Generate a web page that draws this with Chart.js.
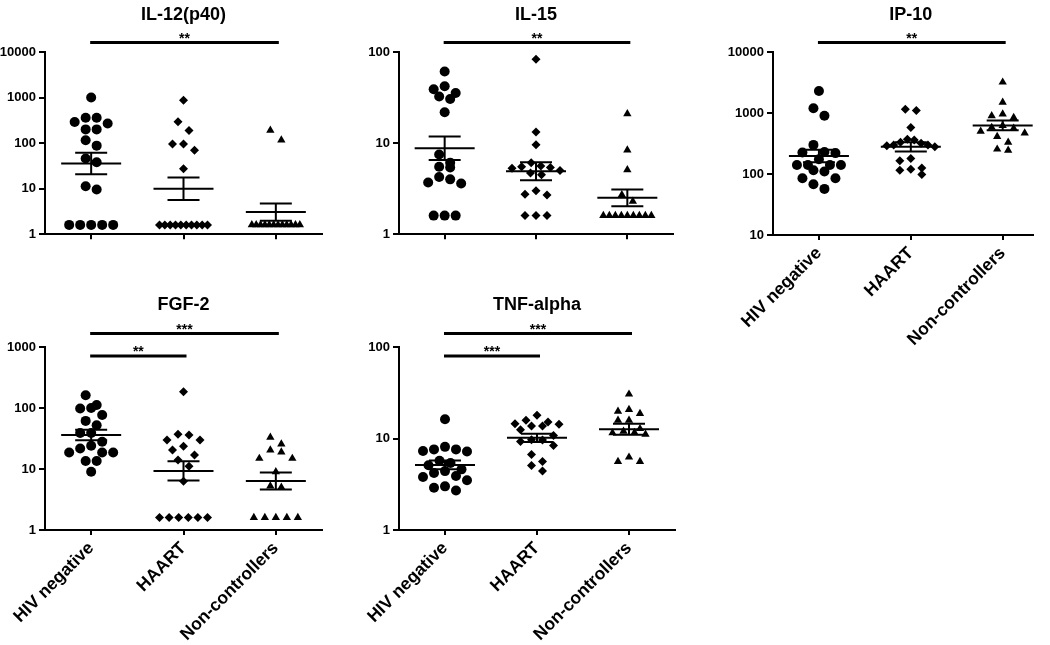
<!DOCTYPE html>
<html lang="en">
<head>
<meta charset="UTF-8">
<title>Cytokines</title>
<style>
  body { margin: 0; background: #fff; }
  #wrap { position: relative; width: 1050px; height: 645px; overflow: hidden; }
  canvas { position: absolute; }
</style>
</head>
<body>
<div id="wrap">
  <canvas id="c1" width="330" height="245" style="left:0;top:0"></canvas>
  <canvas id="c2" width="330" height="245" style="left:350px;top:0"></canvas>
  <canvas id="c3" width="360" height="360" style="left:690px;top:0"></canvas>
  <canvas id="c4" width="330" height="375" style="left:0;top:270px"></canvas>
  <canvas id="c5" width="330" height="375" style="left:350px;top:270px"></canvas>
</div>

<script src="https://cdn.jsdelivr.net/npm/chart.js@4.4.0/dist/chart.umd.min.js"></script>
<script>
// groups on the x axis
const groups = ['HIV negative', 'HAART', 'Non-controllers'];

// IL-12(p40)
const il12Neg = [1000, 360, 360, 290, 270, 200, 200, 115, 88, 46, 38, 11.3, 9.6, 1.6, 1.6, 1.6, 1.6, 1.6];
const il12Haart = [870, 295, 190, 95, 95, 70, 27.5, 1.6, 1.6, 1.6, 1.6, 1.6, 1.6, 1.6, 1.6, 1.6, 1.6];
const il12Nc = [190, 116, 1.6, 1.6, 1.6, 1.6, 1.6, 1.6, 1.6, 1.6, 1.6, 1.6, 1.6, 1.6];
const il12Ticks = [1, 10, 100, 1000, 10000];

// IL-15
const il15Neg = [61, 42, 39, 35.4, 32.5, 30.5, 21.8, 7.5, 6.1, 5.5, 5.4, 4.25, 4.0, 3.7, 3.6, 1.6, 1.6, 1.6];
const il15Haart = [83, 13.2, 9.6, 6.1, 5.6, 5.5, 5.4, 5.3, 5.0, 4.7, 4.5, 3.0, 2.75, 2.7, 1.6, 1.6, 1.6];
const il15Nc = [21, 8.4, 5.1, 2.7, 2.3, 1.6, 1.6, 1.6, 1.6, 1.6, 1.6, 1.6, 1.6, 1.6];
const il15Ticks = [1, 10, 100];

// IP-10
const ip10Neg = [2300, 1200, 900, 300, 230, 225, 220, 175, 140, 140, 140, 140, 115, 110, 85, 85, 68, 57];
const ip10Haart = [1150, 1100, 580, 360, 330, 370, 320, 300, 290, 280, 300, 180, 165, 125, 120, 115, 98];
const ip10Nc = [3200, 1500, 960, 900, 840, 620, 580, 560, 500, 470, 410, 330, 255, 245];
const ip10Ticks = [10, 100, 1000, 10000];

// FGF-2
const fgfNeg = [162, 112, 100, 98, 77, 61.5, 52, 39, 39, 28, 24, 21.7, 18.7, 18.7, 18.7, 13.5, 13.5, 9];
const fgfHaart = [184, 37, 36, 30, 30, 23.7, 20.4, 16.9, 14, 11.1, 6.3, 1.6, 1.6, 1.6, 1.6, 1.6, 1.6];
const fgfNc = [33, 25.6, 20.4, 19, 14.9, 14.9, 9, 5.25, 5.0, 1.6, 1.6, 1.6, 1.6, 1.6];
const fgfTicks = [1, 10, 100, 1000];

// TNF-alpha
const tnfNeg = [16.2, 8.1, 7.6, 7.6, 7.3, 7.2, 5.7, 5.4, 5.1, 4.6, 4.4, 4.2, 3.9, 3.8, 3.5, 3.0, 2.9, 2.7];
const tnfHaart = [17.9, 15.8, 15.1, 14.5, 14.3, 13.7, 13.7, 12.5, 10.8, 9.7, 9.6, 9.3, 8.4, 6.7, 5.6, 5.07, 4.4];
const tnfNc = [30.5, 20.7, 19.8, 18.7, 15.8, 15.8, 12.8, 12, 11.6, 11.5, 11.1, 6.25, 5.6, 5.6];
const tnfTicks = [1, 10, 100];

const FONT = '"Liberation Sans", Arial, sans-serif';
const PLOT_H = 183;     // height of every plot area
const ROW_GAP = 10;     // px: points closer than this share a row
const DOT_STEP = 11;    // px between neighbours in a row
const MAX_SPAN = 48;    // px: widest a row may get

const panels = [
  { id: 'c1', title: 'IL-12(p40)', data: [il12Neg, il12Haart, il12Nc], ticks: il12Ticks,
    yw: 45, top: 52, right: 8, xh: 10, xmax: 3.5, labels: false, titleDy: -32,
    sig: [{ a: 1, b: 3, t: '**', dy: -9.5 }] },
  { id: 'c2', title: 'IL-15', data: [il15Neg, il15Haart, il15Nc], ticks: il15Ticks,
    yw: 49, top: 52, right: 7, xh: 10, xmax: 3.5, labels: false, titleDy: -32,
    sig: [{ a: 1, b: 3, t: '**', dy: -9.5 }] },
  { id: 'c3', title: 'IP-10', data: [ip10Neg, ip10Haart, ip10Nc], ticks: ip10Ticks,
    yw: 83, top: 52, right: 17, xh: 125, xmax: 3.33, labels: true, titleDy: -32,
    sig: [{ a: 1, b: 3, t: '**', dy: -9.5 }] },
  { id: 'c4', title: 'FGF-2', data: [fgfNeg, fgfHaart, fgfNc], ticks: fgfTicks,
    yw: 45, top: 77, right: 8, xh: 115, xmax: 3.5, labels: true, titleDy: -37.5,
    sig: [{ a: 1, b: 3, t: '***', dy: -13.5 }, { a: 1, b: 2, t: '**', dy: 9 }] },
  { id: 'c5', title: 'TNF-alpha', data: [tnfNeg, tnfHaart, tnfNc], ticks: tnfTicks,
    yw: 49, top: 77, right: 5, xh: 115, xmax: 3.5, labels: true, titleDy: -37.5,
    sig: [{ a: 1, b: 3, t: '***', dy: -13.5 }, { a: 1, b: 2, t: '***', dy: 9 }] }
];

const shapes = ['circle', 'rectRot', 'triangle'];
const radii = [5, 4.5, 4.8];

// spread points of one column sideways, row by row, like a column scatter
function spread(values, g, decPx, unitPx) {
  var sorted = values.slice().sort((a, b) => b - a);
  var pts = [];
  var i = 0;
  while (i < sorted.length) {
    var y0 = Math.log10(sorted[i]) * decPx;
    var j = i + 1;
    while (j < sorted.length && y0 - Math.log10(sorted[j]) * decPx < ROW_GAP) j++;
    var row = sorted.slice(i, j);
    var n = row.length;
    var step = n > 1 ? Math.min(DOT_STEP, MAX_SPAN / (n - 1)) : 0;
    var slots = row.map((_, k) => k - (n - 1) / 2)
      .sort((a, b) => Math.abs(a) - Math.abs(b) || a - b);
    row.forEach((v, k) => pts.push({ x: g + slots[k] * step / unitPx, y: v }));
    i = j;
  }
  return pts;
}

// mean and SEM of the log values
function logStats(values) {
  var logs = values.map(Math.log10);
  var n = logs.length;
  var m = logs.reduce((a, b) => a + b, 0) / n;
  var sd = Math.sqrt(logs.reduce((a, b) => a + (b - m) * (b - m), 0) / (n - 1));
  var se = sd / Math.sqrt(n);
  return { mean: Math.pow(10, m), lo: Math.pow(10, m - se), hi: Math.pow(10, m + se) };
}

function decor(p) {
  return {
    id: 'decor',
    afterDatasetsDraw(chart) {
      var ctx = chart.ctx, x = chart.scales.x, y = chart.scales.y;
      ctx.save();
      ctx.strokeStyle = '#000';
      ctx.lineWidth = 2;
      p.data.forEach((vals, i) => {
        var s = logStats(vals);
        var cx = x.getPixelForValue(i + 1);
        var ym = y.getPixelForValue(s.mean), yl = y.getPixelForValue(s.lo), yh = y.getPixelForValue(s.hi);
        ctx.beginPath();
        ctx.moveTo(cx - 30, ym); ctx.lineTo(cx + 30, ym);
        ctx.moveTo(cx - 16, yh); ctx.lineTo(cx + 16, yh);
        ctx.moveTo(cx - 16, yl); ctx.lineTo(cx + 16, yl);
        ctx.moveTo(cx, yh); ctx.lineTo(cx, yl);
        ctx.stroke();
      });
      ctx.restore();
    },
    afterDraw(chart) {
      var ctx = chart.ctx, x = chart.scales.x, area = chart.chartArea;
      ctx.save();
      ctx.fillStyle = '#000';
      ctx.strokeStyle = '#000';
      ctx.textAlign = 'center';
      ctx.font = 'bold 18px ' + FONT;
      ctx.fillText(p.title, x.getPixelForValue(2), area.top + p.titleDy);
      p.sig.forEach(s => {
        var x1 = x.getPixelForValue(s.a) - 1, x2 = x.getPixelForValue(s.b) + 3;
        var yy = area.top + s.dy;
        ctx.lineWidth = 3;
        ctx.beginPath();
        ctx.moveTo(x1, yy); ctx.lineTo(x2, yy);
        ctx.stroke();
        ctx.font = 'bold 14px ' + FONT;
        ctx.fillText(s.t, (x1 + x2) / 2, yy);
      });
      ctx.restore();
    }
  };
}

panels.forEach(p => {
  var canvas = document.getElementById(p.id);
  var plotW = canvas.width - p.right - p.yw;
  var unitPx = plotW / (p.xmax - 0.5);
  var lo = p.ticks[0], hi = p.ticks[p.ticks.length - 1];
  var decPx = PLOT_H / Math.log10(hi / lo);

  new Chart(canvas, {
    type: 'scatter',
    data: {
      datasets: p.data.map((vals, i) => ({
        data: spread(vals, i + 1, decPx, unitPx),
        pointStyle: shapes[i],
        pointRadius: radii[i],
        pointBorderWidth: 0,
        backgroundColor: '#000',
        borderColor: '#000'
      }))
    },
    options: {
      responsive: false,
      animation: false,
      events: [],
      layout: { padding: { top: p.top, right: p.right, bottom: 0, left: 0 } },
      plugins: { legend: { display: false }, tooltip: { enabled: false } },
      scales: {
        x: {
          type: 'linear', min: 0.5, max: p.xmax,
          afterBuildTicks: s => { s.ticks = [1, 2, 3].map(v => ({ value: v })); },
          afterFit: s => { s.height = p.xh; },
          grid: { drawOnChartArea: false, drawTicks: true, tickLength: 5, color: '#000', lineWidth: 2 },
          border: { color: '#000', width: 2 },
          ticks: {
            display: p.labels, autoSkip: false, minRotation: 45, maxRotation: 45, padding: 3,
            color: '#000', font: { family: FONT, size: 17.5, weight: 'bold' },
            callback: v => groups[v - 1]
          }
        },
        y: {
          type: 'logarithmic', min: lo, max: hi,
          afterBuildTicks: s => { s.ticks = p.ticks.map(v => ({ value: v })); },
          afterFit: s => { s.width = p.yw; },
          grid: { drawOnChartArea: false, drawTicks: true, tickLength: 6, color: '#000', lineWidth: 2 },
          border: { color: '#000', width: 2 },
          ticks: {
            padding: 3, color: '#000', font: { family: FONT, size: 13, weight: 'bold' },
            callback: v => String(v)
          }
        }
      }
    },
    plugins: [decor(p)]
  });
});
</script>
</body>
</html>
